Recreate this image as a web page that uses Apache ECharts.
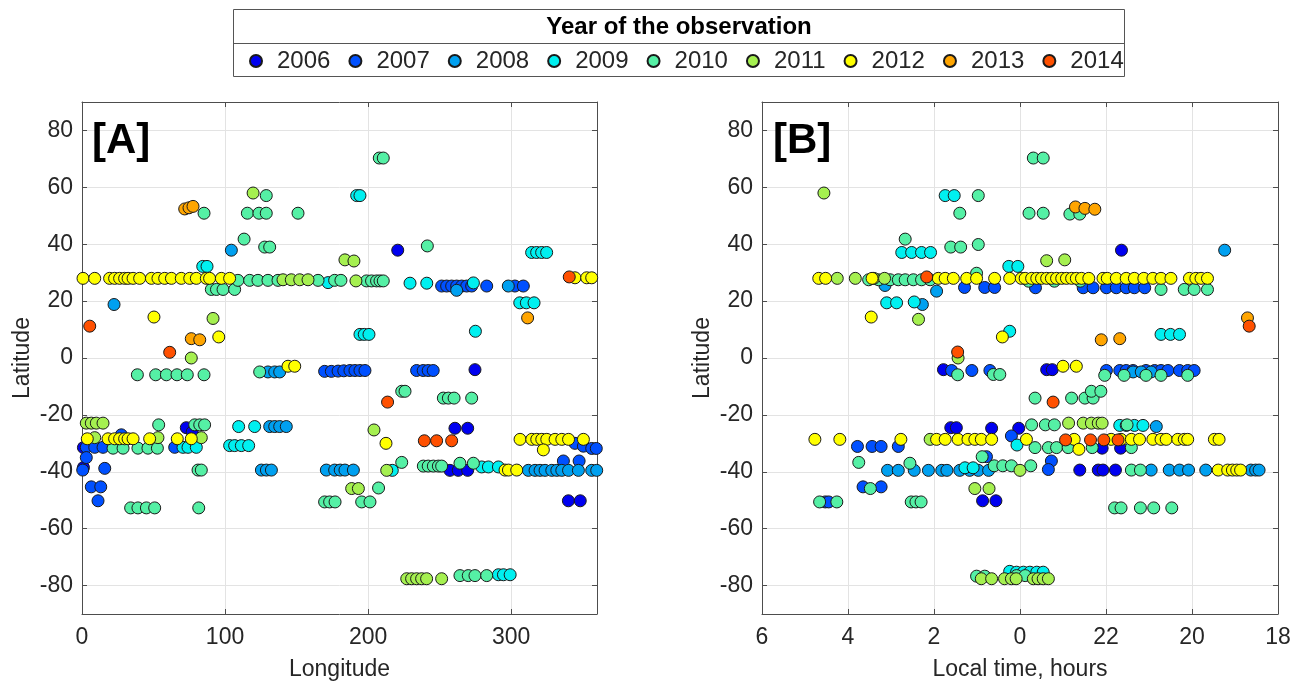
<!DOCTYPE html>
<html><head><meta charset="utf-8">
<script src="https://cdn.jsdelivr.net/npm/echarts@6/dist/echarts.min.js"></script>
<style>html,body{margin:0;padding:0;background:#fff}#c{width:1305px;height:686px}</style>
</head><body><div id="c"></div>
<script>
const years = ['2006','2007','2008','2009','2010','2011','2012','2013','2014'];
const yearColors = ['#0000f0','#0050ff','#00a0f0','#00f0f0','#55f0a5','#a5f050','#ffff00','#ffa500','#ff5000'];
const latTicks = [-80,-60,-40,-20,0,20,40,60,80];

// Panel A: [longitude, latitude]
const a2006 = [[1,-31.5],[1,-38.5],[72.9,-24.5],[77,-26],[220.7,37.9],[274.7,-4.1],[260.7,-24.7],[269.6,-24.7],[257.2,-39.5],[263,-39.5],[269.6,-39.5],[340,-50.2],[348.3,-50.2]];
const a2007 = [[27.5,-27],[3,-31.4],[8.9,-31.4],[14.7,-31.4],[64.8,-31.4],[3,-35],[0.5,-39.4],[15.9,-38.8],[6.5,-45.3],[13.1,-45.3],[11.2,-50.2],[169.6,-4.7],[174.3,-4.7],[179,-4.6],[183,-4.5],[187.3,-4.4],[190.8,-4.4],[194.3,-4.4],[197.8,-4.4],[233.9,-4.4],[238.5,-4.4],[242,-4.4],[245.5,-4.4],[251.4,25.3],[254.9,25.3],[258.4,25.3],[261.9,25.3],[265.4,25.3],[268.9,25.3],[272.4,25.3],[282.9,25.3],[302.6,25.3],[308.5,25.3],[336.5,-36.2],[347.5,-36.2],[344.6,-30],[350.5,-31],[356.3,-31.8],[359.5,-31.8]];
const a2008 = [[22.4,18.8],[104.4,37.9],[130,-4.9],[134.7,-4.9],[138.2,-4.9],[131.2,-24.1],[134.7,-24.1],[138.2,-24.1],[142.8,-24.1],[125.4,-39.4],[128.9,-39.4],[132.4,-39.4],[170.8,-39.4],[176.6,-39.4],[180.5,-39.4],[183.8,-39.4],[189.7,-39.4],[261.9,23.8],[298,25.3],[312,-39.5],[316.7,-39.5],[320.2,-39.5],[323.7,-39.5],[328.4,-39.5],[331.9,-39.5],[335.4,-39.5],[340.1,-39.5],[347,-39.5],[356.3,-39.5],[359.8,-39.5]];
const a2009 = [[84.4,32.2],[87.4,32.2],[172,26.5],[70.6,-31.4],[74.1,-31.4],[79.9,-31.4],[103.2,-30.8],[106.7,-30.8],[111.4,-30.8],[116.5,-30.8],[109.5,-24.1],[120.7,-24.1],[192,57.1],[194.3,57.1],[229.3,26.3],[241,26.3],[273.6,26.4],[314.3,37.1],[317.8,37.1],[321.3,37.1],[324.8,37.1],[306,19.4],[310.6,19.4],[316,19.4],[194.3,8.3],[197.3,8.3],[200.6,8.3],[275,9.4],[216.9,-39.5],[279.4,-38.3],[284.1,-38.3],[291.1,-38.3],[291.1,-76.2],[294.6,-76.2],[299.3,-76.2]];
const a2010 = [[128.8,57.1],[85.3,50.9],[115.6,50.9],[123.7,50.9],[128.8,50.9],[151,50.9],[113.3,41.8],[127.7,39],[131.2,39],[90.4,24.1],[94,24.1],[98.6,24.1],[106.7,24.1],[109,27.3],[117.2,27.3],[123,27.3],[130,27.3],[137,27.3],[165,27.3],[176.6,27.3],[181,27.3],[198.9,27.1],[202.4,27.1],[205.9,27.1],[208.3,27.1],[210.6,27.1],[207.8,70.3],[210.6,70.3],[241.4,39.4],[38.7,-5.9],[51.5,-5.9],[59,-5.9],[66.4,-5.9],[73.6,-5.9],[85.3,-5.9],[124.2,-4.9],[53.6,-23.5],[78.8,-23.5],[82.3,-23.5],[85.7,-23.5],[21.7,-31.7],[28.7,-31.7],[39.1,-31.7],[46.1,-31.7],[52.7,-31.7],[81.1,-39.4],[83.4,-39.4],[34,-52.7],[39.1,-52.7],[45,-52.7],[50.8,-52.7],[81.6,-52.7],[169.6,-50.6],[173.1,-50.6],[176.9,-50.6],[223.5,-11.7],[225.8,-11.7],[252.6,-14.1],[256.1,-14.1],[260.1,-14.1],[272.4,-14.1],[223.5,-36.7],[238.6,-38],[242,-38],[245.6,-38],[249.1,-38],[251.4,-38],[264.2,-37],[273.6,-37],[207.3,-45.7],[195.5,-50.6],[201.3,-50.6],[264.2,-76.5],[270,-76.5],[274.7,-76.5],[282.9,-76.5]];
const a2011 = [[119.6,58],[183.8,34.5],[190.1,34.1],[140.5,27.5],[146.3,27.5],[152.2,27.5],[158,27.5],[191.5,27.1],[91.6,13.9],[76.4,0],[3,-22.9],[6.5,-22.9],[10,-22.9],[14.7,-22.9],[8.9,-28],[53.1,-28],[83.4,-28],[204.1,-25.3],[213,-39.5],[188.5,-45.9],[193.2,-45.9],[227,-77.6],[230.4,-77.6],[233.9,-77.6],[237.4,-77.6],[240.9,-77.6],[251.4,-77.6]];
const a2012 = [[0.7,28],[8.9,28],[19.3,28],[22.8,28],[26.3,28],[29.8,28],[32.2,28],[35.7,28],[40.3,28],[48.5,28],[53.1,28],[57.8,28],[62.5,28],[69.4,28],[75.3,28],[79.9,28],[86.9,28],[89.2,28],[97.4,28],[103.2,28],[344.6,28.2],[352.8,28.2],[356.3,28.2],[50.3,14.4],[95.6,7.4],[144,-2.9],[148.7,-2.9],[3.7,-28.4],[18.2,-28.4],[22.8,-28.4],[26.3,-28.4],[29.8,-28.4],[32.2,-28.4],[35.7,-28.4],[47.3,-28.4],[66.6,-28.4],[76.4,-28.4],[212.5,-30],[306.2,-28.6],[314.4,-28.6],[317.9,-28.6],[321.4,-28.6],[324.9,-28.6],[330.7,-28.6],[335.4,-28.6],[340.1,-28.6],[350.5,-28.6],[322.5,-32.3],[295.7,-39.4],[298.1,-39.4],[303.9,-39.4]];
const a2013 = [[71.8,52.4],[74.8,52.8],[77.6,53.3],[76.4,6.8],[82.3,6.4],[311.5,14.1]];
const a2014 = [[5.4,11.2],[61.3,2],[340.6,28.5],[213.6,-15.5],[239.3,-29.1],[247.9,-29.1],[258.4,-29.1]];

// Panel B: [local time in hours, latitude]
const b2006 = [[21.64,37.9],[1.78,-4.1],[23.38,-4.1],[23.25,-4.1],[1.61,-24.5],[1.48,-24.5],[0.66,-24.7],[0.03,-24.7],[22.09,-31.7],[21.66,-31.7],[22.61,-39.4],[22.18,-39.4],[22.07,-39.4],[21.78,-39.4],[0.87,-50.2],[0.56,-50.2]];
const b2007 = [[1.29,24.8],[0.82,24.8],[0.59,24.8],[23.64,24.7],[22.53,24.7],[22.3,24.7],[21.99,24.7],[21.76,24.7],[21.53,24.7],[21.34,24.7],[21.1,24.7],[1.59,-4.4],[1.12,-4.4],[0.7,-4.4],[21.99,-4.4],[21.68,-4.4],[21.53,-4.4],[21.37,-4.4],[21.07,-4.4],[20.87,-4.4],[20.72,-4.4],[20.56,-4.4],[20.29,-4.4],[20.1,-4.4],[19.95,-4.4],[0.2,-27.4],[3.78,-31.1],[3.44,-31.1],[3.23,-31.1],[2.83,-31.1],[0.78,-34.7],[23.27,-36.2],[23.34,-39.2],[3.65,-45.3],[3.23,-45.3],[4.53,-50.6],[4.45,-50.6]];
const b2008 = [[19.24,37.9],[3.14,25.5],[1.94,23.5],[2.27,18.8],[21.37,-4.9],[21.18,-4.9],[20.95,-4.9],[20.83,-24.1],[3.08,-39.5],[2.83,-39.5],[2.46,-39.5],[2.13,-39.5],[1.82,-39.5],[1.7,-39.5],[1.4,-39.5],[1.17,-39.5],[0.97,-39.5],[0.73,-39.5],[20.95,-39.4],[20.53,-39.4],[20.29,-39.4],[20.08,-39.4],[19.68,-39.4],[18.63,-39.4],[18.52,-39.4],[18.44,-39.4]];
const b2009 = [[1.74,57.1],[1.53,57.1],[2.75,37.1],[2.52,37.1],[2.29,37.1],[2.08,37.1],[0.26,32.2],[0.05,32.2],[3.1,19.4],[2.87,19.4],[2.46,19.7],[0.24,9.4],[20.72,8.3],[20.5,8.3],[20.29,8.3],[21.68,-23.7],[21.53,-23.7],[21.34,-23.7],[21.14,-23.7],[0.07,-30.6],[1.28,-38.6],[1.09,-38.6],[0.24,-75],[0.08,-75.3],[23.92,-75.3],[23.77,-75.3],[23.61,-75.3],[23.46,-75.3]];
const b2010 = [[23.69,70.3],[23.46,70.3],[0.97,57.1],[1.4,50.9],[23.79,50.9],[23.46,50.9],[22.84,50.6],[22.61,50.6],[2.67,41.8],[1.61,39],[1.38,39],[0.97,39.9],[3.52,27.5],[3.29,27.5],[3.02,27.5],[2.83,27.5],[2.67,27.5],[2.48,27.5],[2.29,27.5],[2.09,27.5],[1.01,29.8],[23.8,27],[23.2,27],[22.6,27],[20.72,24.1],[20.18,24.1],[19.95,24.1],[19.64,24.1],[1.45,-5.9],[0.62,-5.8],[0.47,-5.8],[22.03,-6.1],[21.58,-6.1],[21.07,-6.1],[20.72,-6.1],[20.1,-6.1],[23.65,-14.1],[22.8,-14.1],[22.49,-14.1],[22.3,-14.1],[22.34,-11.7],[22.12,-11.7],[23.73,-23.5],[23.41,-23.5],[23.2,-23.5],[21.51,-23.5],[23.65,-31.5],[23.34,-31.5],[23.15,-31.5],[22.88,-31.5],[22.32,-31.5],[21.41,-31.5],[3.75,-36.7],[2.56,-37],[0.88,-34.7],[0.6,-37.9],[0.4,-37.9],[0.2,-37.9],[23.75,-37.9],[21.41,-39.4],[21.2,-39.4],[3.48,-45.9],[4.66,-50.6],[4.26,-50.6],[2.53,-50.6],[2.42,-50.6],[2.3,-50.6],[21.8,-52.7],[21.65,-52.7],[21.2,-52.7],[20.89,-52.7],[20.47,-52.7],[1.01,-76.7],[0.82,-76.7],[0.08,-76.5],[23.88,-76.5]];
const b2011 = [[4.56,58],[23.38,34.2],[22.96,34.5],[4.25,28],[3.83,28],[3.4,28],[3.15,28],[2.36,13.6],[1.44,0],[2.09,-28.6],[22.87,-22.9],[22.53,-22.9],[22.34,-22.9],[22.18,-22.9],[22.09,-22.9],[0,-39.5],[1.05,-45.9],[0.72,-45.9],[0.9,-77.6],[0.66,-77.6],[0.36,-77.6],[0.2,-77.6],[0.09,-77.6],[23.69,-77.6],[23.58,-77.6],[23.46,-77.6],[23.34,-77.6]];
const b2012 = [[4.68,28],[4.52,28],[3.44,28],[1.9,28],[1.74,28],[1.55,28],[1.24,28],[1.01,28],[0.59,28],[0.24,28],[23.97,28],[23.88,28],[23.73,28],[23.61,28],[23.5,28],[23.38,28],[23.27,28],[23.15,28],[23.03,28],[22.92,28],[22.8,28],[22.69,28],[22.57,28],[22.4,28],[22.07,28],[21.97,28],[21.76,28],[21.53,28],[21.34,28],[21.12,28],[20.91,28],[20.72,28],[20.49,28],[20.06,28],[19.91,28],[19.79,28],[19.64,28],[3.46,14.4],[0.41,7.4],[23,-2.9],[22.69,-2.9],[4.77,-28.6],[4.19,-28.6],[2.77,-28.6],[1.94,-28.6],[1.74,-28.6],[1.44,-28.6],[1.21,-28.6],[1.05,-28.6],[0.9,-28.6],[0.66,-28.6],[23.85,-28.6],[22.74,-28.6],[21.88,-28.6],[21.65,-28.6],[21.41,-28.6],[21.22,-28.6],[20.91,-28.6],[20.72,-28.6],[20.6,-28.6],[20.33,-28.6],[20.18,-28.6],[20.1,-28.6],[19.48,-28.6],[19.37,-28.6],[22.63,-32.1],[19.39,-39.4],[19.17,-39.4],[19.06,-39.4],[18.96,-39.4],[18.87,-39.4]];
const b2013 = [[22.71,53.1],[22.49,52.6],[22.26,52.3],[18.71,14.1],[22.11,6.4],[21.68,6.8]];
const b2014 = [[2.17,28.5],[18.67,11.2],[1.45,2.1],[23.23,-15.5],[22.94,-28.8],[22.36,-28.8],[22.05,-28.8],[21.72,-28.8]];

const panelA = [a2006,a2007,a2008,a2009,a2010,a2011,a2012,a2013,a2014];
const panelB = [b2006,b2007,b2008,b2009,b2010,b2011,b2012,b2013,b2014];

// local time axis runs 6 -> 0 -> 18 (hours); axis value = -LT before midnight wrap
function ltToAxis(lt){ return lt <= 12 ? -lt : 24 - lt; }
function axisToLt(v){ return v <= 0 ? String(Math.abs(v)) : String(24 - v); }

const FONT = 'Liberation Sans, Arial, sans-serif';
const TXT = '#262626';
const FRAME = '#4d4d4d';

function xAx(grid, pos, opts, main, showMax){
  return Object.assign({
    type:'value', gridIndex:grid, position:pos,
    axisLine:{show:true,onZero:false,lineStyle:{color:FRAME,width:1}},
    axisTick:{show:true,inside:true,length:5,lineStyle:{color:FRAME}},
    axisLabel:{show:main,color:TXT,fontSize:23,fontFamily:FONT,margin:12,showMaxLabel:!!showMax,showMinLabel:true},
    splitLine:{show:main,lineStyle:{color:'#e3e3e3',width:1}}
  }, opts);
}
function yAx(grid, pos, main, name){
  return {
    type:'value', gridIndex:grid, position:pos, min:-90, max:90,
    name: main ? name : '', nameLocation:'middle', nameGap:48,
    nameTextStyle:{color:TXT,fontSize:23,fontFamily:FONT},
    axisLine:{show:true,onZero:false,lineStyle:{color:FRAME,width:1}},
    axisTick:{show:true,inside:true,length:5,customValues:latTicks,lineStyle:{color:FRAME}},
    axisLabel:{show:main,customValues:latTicks,color:TXT,fontSize:23,fontFamily:FONT,margin:9},
    splitLine:{show:main,lineStyle:{color:'#e3e3e3',width:1}}
  };
}

const series = [];
years.forEach((y,i)=>{
  series.push({
    name:y, type:'scatter', xAxisIndex:0, yAxisIndex:0, symbol:'circle', symbolSize:12,
    itemStyle:{color:yearColors[i],borderColor:'#1a1a1a',borderWidth:1,opacity:1},
    data: panelA[i], z: 2+i, animation:false
  });
});
years.forEach((y,i)=>{
  series.push({
    name:y, type:'scatter', xAxisIndex:2, yAxisIndex:2, symbol:'circle', symbolSize:12,
    itemStyle:{color:yearColors[i],borderColor:'#1a1a1a',borderWidth:1,opacity:1},
    data: panelB[i].map(p=>[ltToAxis(p[0]), p[1]]), z: 2+i, animation:false
  });
});

const option = {
  backgroundColor:'#fff',
  animation:false,
  grid:[
    {left:82, top:102, width:515, height:513, containLabel:false},
    {left:762, top:102, width:516, height:513, containLabel:false}
  ],
  xAxis:[
    xAx(0,'bottom',{min:0,max:360,interval:100,name:'Longitude',nameLocation:'middle',nameGap:44,
      nameTextStyle:{color:TXT,fontSize:23,fontFamily:FONT}},true,false),
    xAx(0,'top',{min:0,max:360,interval:100},false,false),
    xAx(1,'bottom',{min:-6,max:6,interval:2,name:'Local time, hours',nameLocation:'middle',nameGap:44,
      nameTextStyle:{color:TXT,fontSize:23,fontFamily:FONT}},true,true),
    xAx(1,'top',{min:-6,max:6,interval:2},false,false)
  ],
  yAxis:[
    yAx(0,'left',true,'Latitude'),
    yAx(0,'right',false,''),
    yAx(1,'left',true,'Latitude'),
    yAx(1,'right',false,'')
  ],
  legend:{
    data:years, left:244, top:44, orient:'horizontal', icon:'circle',
    itemWidth:12, itemHeight:12, itemGap:18, selectedMode:false,
    textStyle:{color:TXT,fontSize:24,fontFamily:FONT,lineHeight:24,padding:[0,0,0,10]}
  },
  graphic:[
    {type:'rect',shape:{x:233.5,y:9.5,width:891,height:67},style:{fill:'none',stroke:'#555',lineWidth:1},z:100},
    {type:'line',shape:{x1:233.5,y1:43.5,x2:1124.5,y2:43.5},style:{stroke:'#555',lineWidth:1},z:100},
    {type:'text',x:679,y:27,style:{text:'Year of the observation',fill:'#000',font:'bold 24px '+FONT,textAlign:'center',textVerticalAlign:'middle'},z:100},
    {type:'text',x:92,y:141,style:{text:'[A]',fill:'#000',font:'bold 42px '+FONT,textAlign:'left',textVerticalAlign:'middle'},z:100},
    {type:'text',x:773,y:141,style:{text:'[B]',fill:'#000',font:'bold 42px '+FONT,textAlign:'left',textVerticalAlign:'middle'},z:100}
  ],
  series: series
};
option.xAxis[2].axisLabel.formatter = axisToLt;

const chart = echarts.init(document.getElementById('c'), null, {renderer:'canvas'});
chart.setOption(option);
</script>
</body></html>
